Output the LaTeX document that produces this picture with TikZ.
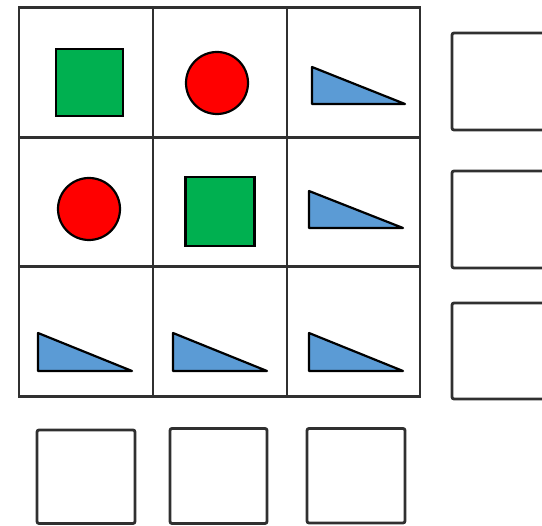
\documentclass[tikz,border=0pt]{standalone}
\usepackage{tikz}
\definecolor{sqgreen}{HTML}{00B050}
\definecolor{cred}{HTML}{FF0000}
\definecolor{tblue}{HTML}{5B9BD5}
\definecolor{gline}{HTML}{303030}
\tikzset{
  cell/.style={draw=gline, line width=2.8pt, minimum width=134pt, minimum height=129.5pt, inner sep=0pt, outer sep=0pt},
  greensq/.style={draw=black, fill=sqgreen, line width=2.2pt, inner sep=0pt},
  redcirc/.style={circle, draw=black, fill=cred, line width=2.2pt, inner sep=0pt, minimum size=62pt},
  bluetri/.style={draw=black, fill=tblue, line width=2.2pt, line join=round},
  emptybox/.style={draw=gline, line width=2.8pt, rounded corners=2pt}
}
\begin{document}
\begin{tikzpicture}[x=1pt,y=-1pt]
\path[use as bounding box] (0,0) rectangle (542,526);
\clip (0,0) rectangle (542,526);
% grid cells
\node[cell] (c11) at (86,72.5) {};
\node[cell] (c12) at (220,72.5) {};
\node[cell, minimum width=133pt] (c13) at (353.5,72.5) {};
\node[cell] (c21) at (86,202) {};
\node[cell] (c22) at (220,202) {};
\node[cell, minimum width=133pt] (c23) at (353.5,202) {};
\node[cell] (c31) at (86,331.5) {};
\node[cell] (c32) at (220,331.5) {};
\node[cell, minimum width=133pt] (c33) at (353.5,331.5) {};
% shapes
\node[greensq, minimum size=67pt] (g1) at (89.5,82.5) {};
\node[redcirc] (r1) at (217,83) {};
\node[redcirc] (r2) at (89,209) {};
\node[greensq, minimum size=69pt] (g2) at (220,211.5) {};
\draw[bluetri] (312,67) -- (312,104) -- (405,104) -- cycle;
\draw[bluetri] (309,191) -- (309,228) -- (403,228) -- cycle;
\draw[bluetri] (38,333) -- (38,371) -- (132,371) -- cycle;
\draw[bluetri] (173,333) -- (173,371) -- (267,371) -- cycle;
\draw[bluetri] (309,333) -- (309,371) -- (403,371) -- cycle;
% right answer boxes
\draw[emptybox] (452,33) rectangle (600,130);
\draw[emptybox] (452,171) rectangle (600,268);
\draw[emptybox] (452,303) rectangle (600,399);
% bottom answer boxes
\draw[emptybox] (37,430) rectangle (135,523.5);
\draw[emptybox] (170,428.5) rectangle (267,523.5);
\draw[emptybox] (307,428.5) rectangle (405,523);
\end{tikzpicture}
\end{document}
